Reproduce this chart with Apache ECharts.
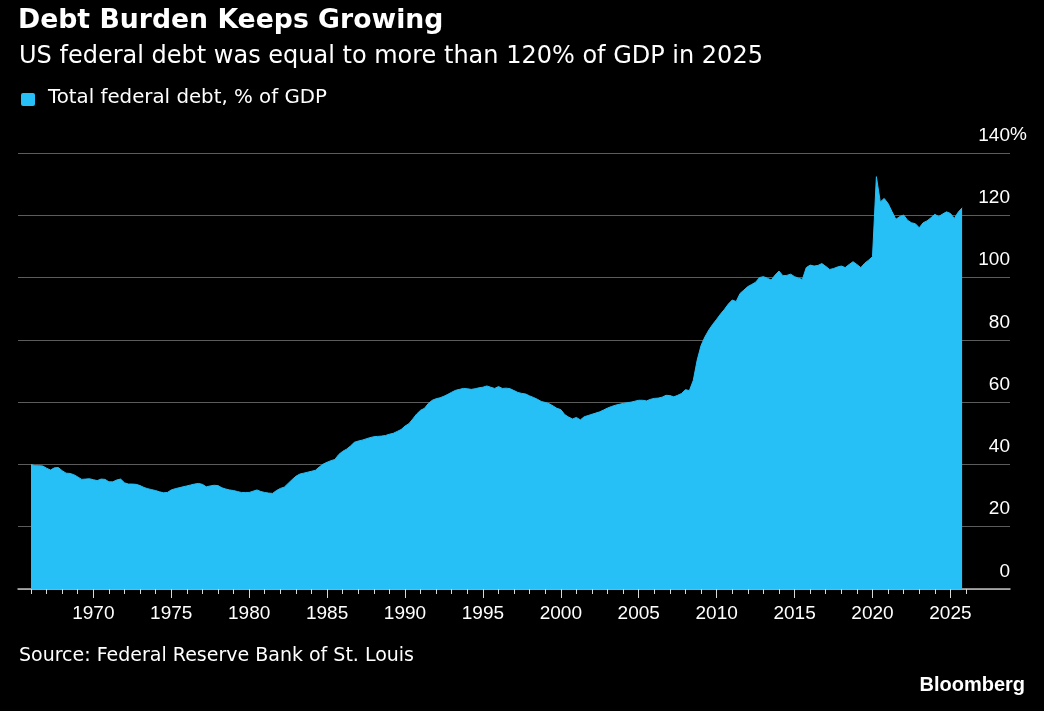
<!DOCTYPE html>
<html>
<head>
<meta charset="utf-8">
<script src="https://cdn.jsdelivr.net/npm/echarts@6/dist/echarts.min.js"></script>
<style>
html,body{margin:0;padding:0;background:#000;}
#chart{width:1044px;height:711px;}
</style>
</head>
<body>
<div id="chart"></div>
<script>
// ---- Text ----
const chartTitle = 'Debt Burden Keeps Growing';
const chartSubtitle = 'US federal debt was equal to more than 120% of GDP in 2025';
const seriesName = 'Total federal debt, % of GDP';
const sourceText = 'Source: Federal Reserve Bank of St. Louis';
const brandText = 'Bloomberg';

// ---- Data: quarterly, starting 1966 Q1 ----
const firstYear = 1966;
const debtPctGDP = [
  40.0, 39.6, 39.6, 39.5,   // 1966
  38.8, 38.2, 38.9, 39.0,   // 1967
  38.0, 37.2, 37.1, 36.7,   // 1968
  36.0, 35.2, 35.3, 35.4,   // 1969
  35.1, 34.8, 35.3, 35.2,   // 1970
  34.4, 34.4, 35.0, 35.3,   // 1971
  34.1, 33.7, 33.7, 33.6,   // 1972
  33.2, 32.6, 32.2, 31.9,   // 1973
  31.6, 31.2, 30.9, 31.0,   // 1974
  31.8, 32.2, 32.5, 32.8,   // 1975
  33.1, 33.4, 33.7, 33.9,   // 1976
  33.6, 32.8, 33.1, 33.3,   // 1977
  33.2, 32.5, 32.1, 31.8,   // 1978
  31.6, 31.3, 31.0, 31.0,   // 1979
  31.0, 31.4, 31.8, 31.3,   // 1980
  31.0, 30.8, 30.7, 31.6,   // 1981
  32.3, 32.7, 33.9, 35.1,   // 1982
  36.2, 36.9, 37.2, 37.5,   // 1983
  37.8, 38.1, 39.2, 40.1,   // 1984
  40.7, 41.2, 41.6, 43.2,   // 1985
  44.2, 44.9, 45.9, 47.1,   // 1986
  47.5, 47.8, 48.2, 48.6,   // 1987
  48.9, 49.0, 49.1, 49.3,   // 1988
  49.7, 50.0, 50.6, 51.2,   // 1989
  52.3, 53.1, 54.6, 56.2,   // 1990
  57.4, 58.0, 59.6, 60.6,   // 1991
  61.1, 61.4, 61.9, 62.5,   // 1992
  63.2, 63.8, 64.1, 64.4,   // 1993
  64.3, 64.1, 64.3, 64.6,   // 1994
  64.8, 65.2, 64.8, 64.4,   // 1995
  65.0, 64.4, 64.5, 64.3,   // 1996
  63.7, 63.1, 62.8, 62.6,   // 1997
  62.0, 61.5, 60.9, 60.2,   // 1998
  59.9, 59.5, 58.8, 58.0,   // 1999
  57.6, 56.0, 55.2, 54.6,   // 2000
  55.1, 54.3, 55.3, 55.7,   // 2001
  56.1, 56.5, 56.9, 57.5,   // 2002
  58.1, 58.6, 59.0, 59.3,   // 2003
  59.6, 59.8, 60.0, 60.3,   // 2004
  60.6, 60.6, 60.4, 60.9,   // 2005
  61.2, 61.3, 61.6, 62.2,   // 2006
  62.1, 61.7, 62.2, 62.8,   // 2007
  64.0, 63.7, 67.0, 73.5,   // 2008
  78.2, 81.0, 83.2, 85.0,   // 2009
  86.6, 88.3, 89.8, 91.5,   // 2010
  92.8, 92.3, 94.9, 96.0,   // 2011
  97.1, 97.8, 98.5, 100.0,  // 2012
  100.3, 99.8, 99.2, 100.8, // 2013
  102.1, 100.6, 100.7, 101.1, // 2014
  100.3, 99.8, 99.4, 103.2, // 2015
  104.0, 103.7, 103.9, 104.5, // 2016
  103.6, 102.6, 102.9, 103.4, // 2017
  103.7, 103.2, 104.2, 105.1, // 2018
  104.2, 103.2, 104.6, 105.6, // 2019
  106.7, 132.4, 124.3, 125.4, // 2020
  123.8, 121.2, 118.7, 119.6, // 2021
  120.1, 118.4, 117.6, 117.3, // 2022
  116.0, 117.6, 118.2, 119.2, // 2023
  120.3, 119.6, 120.4, 121.1, // 2024
  120.6, 119.0, 121.0, 122.4  // 2025
];

// ---- Axis ticks / labels ----
const xLabelYears = [1970, 1975, 1980, 1985, 1990, 1995, 2000, 2005, 2010, 2015, 2020, 2025];
const xMinorTickYears = [];
for (let y = 1966; y <= 2026; y++) xMinorTickYears.push(y);
const yMin = 0, yMax = 140, yStep = 20;

// ---- Build ----
const seriesData = debtPctGDP.map((v, i) => [firstYear + i / 4, v]);

const areaColor = '#26bff6';
const xMin = 1965.166, xMax = 2028.824;

const chart = echarts.init(document.getElementById('chart'), null, {renderer: 'canvas', width: 1044, height: 711});

const option = {
  backgroundColor: '#000000',
  animation: false,
  grid: {left: 18, right: 34, top: 153, bottom: 122, containLabel: false},
  xAxis: [
    {
      type: 'value', min: xMin, max: xMax, position: 'bottom',
      splitLine: {show: false},
      axisLine: {show: true, onZero: false, lineStyle: {color: '#bdbdbd', width: 1.5}},
      axisTick: {show: true, length: 5, customValues: xMinorTickYears, lineStyle: {color: '#d8d8d8', width: 1}},
      axisLabel: {
        show: true, customValues: xLabelYears, color: '#ffffff',
        fontFamily: 'Liberation Sans', fontSize: 19, lineHeight: 19, margin: 15,
        formatter: v => String(Math.round(v))
      }
    },
    {
      type: 'value', min: xMin, max: xMax, position: 'bottom',
      splitLine: {show: false},
      axisLine: {show: false},
      axisTick: {show: true, length: 9, customValues: xLabelYears, lineStyle: {color: '#d8d8d8', width: 1}},
      axisLabel: {show: false}
    }
  ],
  yAxis: {
    type: 'value', position: 'right', min: yMin, max: yMax, interval: yStep,
    axisLine: {show: false},
    axisTick: {show: false},
    splitLine: {show: true, lineStyle: {color: '#5c5c5c', width: 1}},
    axisLabel: {
      inside: true, margin: 0, color: '#ffffff',
      fontFamily: 'Liberation Sans', fontSize: 19,
      verticalAlign: 'bottom', lineHeight: 35,
      formatter: v => String(v)
    }
  },
  series: [{
    name: seriesName,
    type: 'line',
    xAxisIndex: 0,
    data: seriesData,
    showSymbol: false,
    symbol: 'none',
    lineStyle: {color: areaColor, width: 1},
    areaStyle: {color: areaColor, opacity: 1},
    z: 3
  }],
  graphic: [
    {type: 'text', left: 18, top: 8, style: {text: chartTitle, fill: '#ffffff', font: 'bold 26.7px "DejaVu Sans"'}},
    {type: 'text', left: 19, top: 45, style: {text: chartSubtitle, fill: '#ffffff', font: '24px "DejaVu Sans"'}},
    {type: 'rect', left: 21, top: 93, shape: {width: 14, height: 13, r: 2}, style: {fill: areaColor}},
    {type: 'text', left: 48, top: 88, style: {text: seriesName, fill: '#ffffff', font: '19.8px "DejaVu Sans"'}},
    {type: 'text', left: 1010, top: 125, style: {text: '%', fill: '#ffffff', font: '19px "Liberation Sans"'}},
    {type: 'text', left: 19, top: 647, style: {text: sourceText, fill: '#ffffff', font: '19px "DejaVu Sans"'}},
    {type: 'text', right: 19, top: 675, style: {text: brandText, fill: '#ffffff', font: 'bold 20px "Liberation Sans"'}}
  ]
};
chart.setOption(option);
</script>
</body>
</html>
